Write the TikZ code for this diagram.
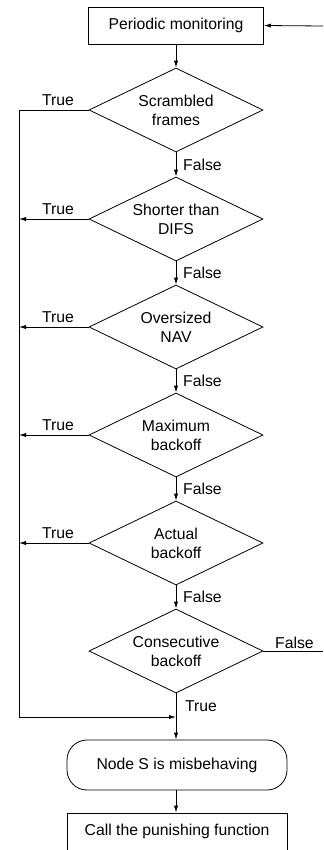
\documentclass[tikz,border=0pt]{standalone}
\usepackage{fontspec}
\setmainfont{Liberation Sans}
\usetikzlibrary{shapes.geometric,arrows.meta}
\begin{document}
\begin{tikzpicture}[x=1bp,y=-1bp,
  every node/.style={font=\fontsize{15.8}{19}\selectfont},
  line/.style={line width=0.8bp},
  arr/.style={line, -{Latex[length=7bp,width=4.2bp]}},
  procbox/.style={draw, line width=0.8bp, rectangle, inner sep=0pt},
  test/.style={draw, line width=0.8bp, diamond, aspect=2.07, inner sep=0pt,
    minimum width=174bp, minimum height=84bp, align=center},
  endbox/.style={draw, line width=0.8bp, rectangle, rounded corners=20bp, inner sep=0pt},
  lbl/.style={inner sep=0pt}
]
\useasboundingbox (0,0) rectangle (323,850);

% process boxes
\node[procbox, minimum width=175bp, minimum height=37bp] (mon) at (176,25.5) {Periodic monitoring};
\node[test] (d1) at (176,110) {Scrambled\\frames};
\node[test] (d2) at (176,219) {Shorter than\\DIFS};
\node[test] (d3) at (176,327) {Oversized\\NAV};
\node[test] (d4) at (176,435) {Maximum\\backoff};
\node[test] (d5) at (176,543) {Actual\\backoff};
\node[test] (d6) at (176,651) {Consecutive\\backoff};
\node[endbox, minimum width=220bp, minimum height=50bp] (mis) at (177,765) {Node S is misbehaving};
\node[procbox, minimum width=220bp, minimum height=37bp] (pun) at (177,831.5) {Call the punishing function};

% loop ends at the right margin
\coordinate (loopin) at (323,26);
\coordinate (loopout) at (323,651);
% left collector line
\coordinate (ctop) at (19,110);
\coordinate (cbot) at (19,717);
\coordinate (cjoin) at (176,717);

\draw[arr] (loopin) -- (mon.east);
\draw[arr] (mon.south) -- (d1.north);
\draw[arr] (d1.south) -- (d2.north);
\draw[arr] (d2.south) -- (d3.north);
\draw[arr] (d3.south) -- (d4.north);
\draw[arr] (d4.south) -- (d5.north);
\draw[arr] (d5.south) -- (d6.north);
\draw[arr] (d6.south) -- (mis.north -| d6.south);
\draw[arr] (mis.south -| d6.south) -- (pun.north -| d6.south);
\draw[line] (d6.east) -- (loopout);

% true branches
\draw[line] (d1.west) -- (ctop) -- (cbot);
\draw[arr] (cbot) -- (cjoin);
\foreach \d in {d2,d3,d4,d5}{
  \draw[arr] (\d.west) -- (\d.west -| ctop);
}

% branch labels
\foreach \d in {d1,d2,d3,d4,d5}{
  \node[lbl, anchor=base] at ([xshift=-118bp,yshift=5bp]\d.center) {True};
}
\foreach \y in {170,278,386,494,602}{
  \node[lbl, anchor=base west] at (183,\y) {False};
}
\node[lbl, anchor=base west] at (275,648) {False};
\node[lbl, anchor=base west] at (185,711) {True};
\end{tikzpicture}
\end{document}
